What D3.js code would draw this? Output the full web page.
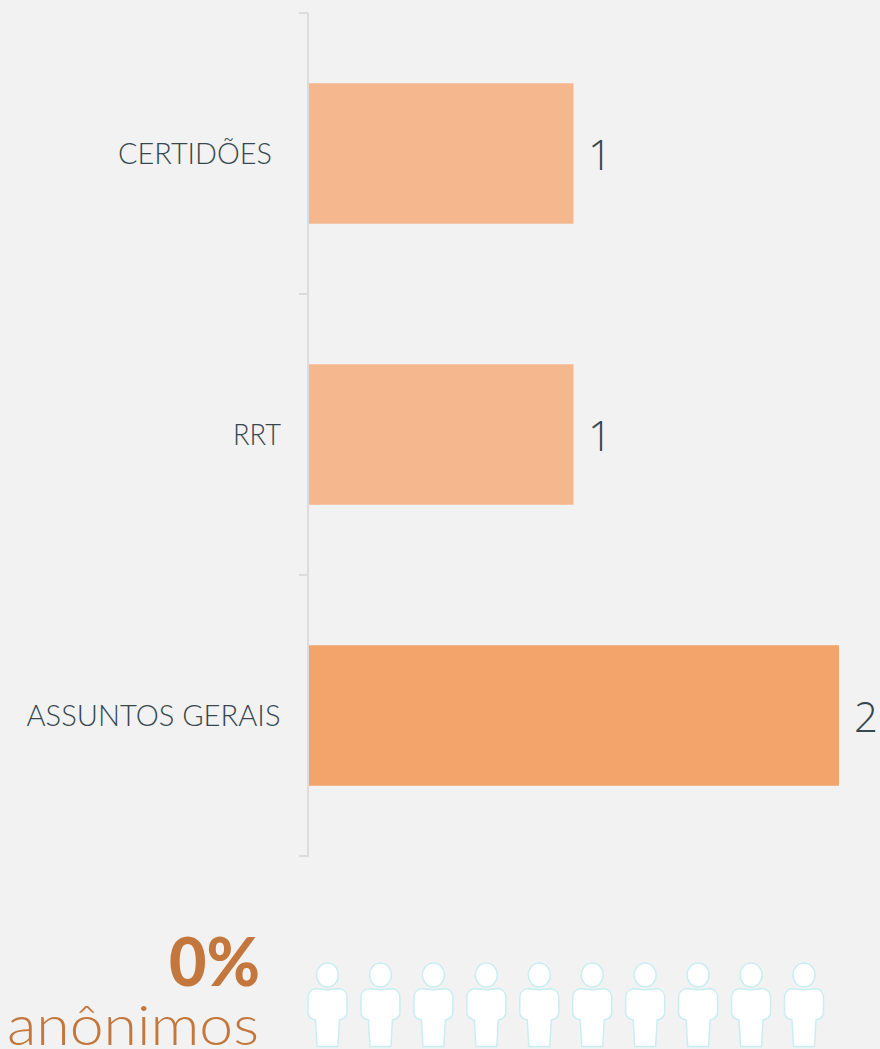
<!DOCTYPE html>
<html><head><meta charset="utf-8">
<script src="https://cdn.jsdelivr.net/npm/d3@7"></script>
<style>
html,body{margin:0;padding:0;background:#f2f2f2;overflow:hidden}
svg{display:block}
text{font-family:Lato,"Noto Sans",sans-serif}
</style></head><body>
<svg id="c" width="880" height="1049"></svg>
<script>
const categories = ["CERTIDÕES","RRT","ASSUNTOS GERAIS"];
const values = [1,1,2];
const percentValue = "0%";
const percentLabel = "anônimos";
const people = [1,2,3,4,5,6,7,8,9,10];

const svg = d3.select("#c");
const y = d3.scaleBand().domain(categories).range([13,856]).paddingInner(0.5).paddingOuter(0.25);
const x = d3.scaleLinear().domain([0,2]).range([309,839]);
const color = d3.scaleOrdinal().domain([1,2]).range(["#f5b78e","#f3a46a"]);

// category axis: ticks on band boundaries
const edges = [0,1,2,3].map(i => 13 + i*y.step());
const axis = svg.append("g").attr("fill","none").attr("stroke","#dcdcdc").attr("stroke-width",2);
axis.append("line").attr("x1",308).attr("x2",308).attr("y1",13).attr("y2",857);
axis.selectAll("line.t").data(edges).join("line").attr("class","t")
  .attr("x1",299).attr("x2",308).attr("y1",d=>d).attr("y2",d=>d);

svg.selectAll("rect.bar").data(categories).join("rect").attr("class","bar")
  .attr("x",x(0)).attr("y",d=>y(d)).attr("height",y.bandwidth())
  .attr("width",(d,i)=>x(values[i])-x(0)-(values[i]===1?0.5:0)).attr("fill",(d,i)=>color(values[i]));

const labelRight = [272,281,280.5], labelLen = [154,48,254];
svg.selectAll("text.cat").data(categories).join("text").attr("class","cat")
  .attr("x",(d,i)=>labelRight[i]).attr("y",d=>y(d)+y.bandwidth()/2+10)
  .attr("text-anchor","end").attr("font-size",29.5).attr("font-weight",300).attr("fill","#36474f")
  .attr("textLength",(d,i)=>labelLen[i]).attr("lengthAdjust","spacingAndGlyphs")
  .text(d=>d);

svg.selectAll("text.val").data(categories).join("text").attr("class","val")
  .attr("x",(d,i)=>x(values[i])+(values[i]===2?15:14)).attr("y",d=>y(d)+y.bandwidth()/2+16)
  .style("font-family","'Open Sans',Lato,sans-serif").attr("font-size",42).attr("font-weight",300).attr("fill","#36474f")
  .text((d,i)=>values[i]);

svg.append("text").attr("x",260).attr("y",986).attr("text-anchor","end")
  .attr("font-size",66).attr("font-weight",900).attr("fill","#c4773c")
  .attr("textLength",91).attr("lengthAdjust","spacingAndGlyphs").text(percentValue);
svg.append("text").attr("x",259).attr("y",1045).attr("text-anchor","end")
  .attr("font-size",56).attr("font-weight",300).attr("fill","#c4773c")
  .attr("textLength",252).attr("lengthAdjust","spacingAndGlyphs").text(percentLabel);

// pictogram row
const px = d3.scalePoint().domain(people).range([327.5,804]);
const icon = "M-12,12.5 C-6,14 6,14 12,12.5 C16.5,13.5 19.5,17 19.5,21 L19.5,37 C19.5,41 15,43.5 12,44 L10.5,70.5 L-10.5,70.5 L-12,44 C-15,43.5 -19.5,41 -19.5,37 L-19.5,21 C-19.5,17 -16.5,13.5 -12,12.5 Z";
const g = svg.selectAll("g.p").data(people).join("g").attr("class","p")
  .attr("transform",d=>`translate(${px(d)},976)`)
  .attr("fill","#ffffff").attr("stroke","#c9eef2").attr("stroke-width",1.5);
g.append("ellipse").attr("cy",-1).attr("rx",11).attr("ry",12);
g.append("path").attr("d",icon);
</script>
</body></html>
